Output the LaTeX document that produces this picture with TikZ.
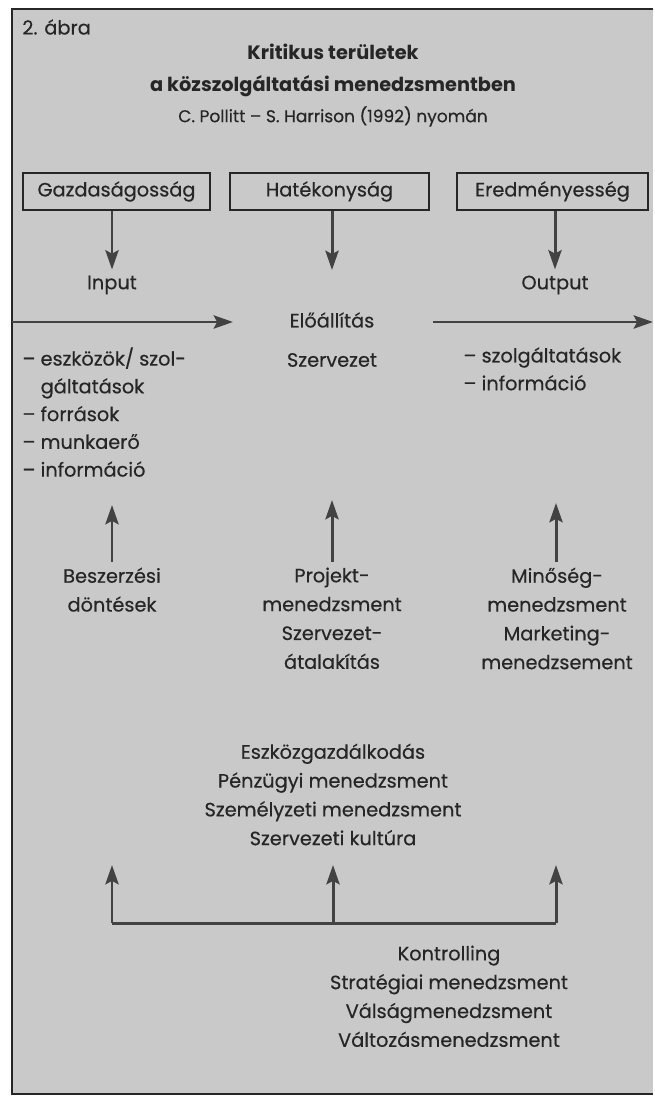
\documentclass[tikz,border=0pt]{standalone}
\usepackage{fontspec}
\setmainfont{Poppins}[UprightFeatures={FakeBold=0.4}]
\usepackage{tikz}
\usetikzlibrary{
  arrows.meta,
  positioning,
}

\definecolor{paper}{gray}{0.79}
\definecolor{ink}{gray}{0.15}
\definecolor{arrowgray}{gray}{0.26}

\begin{document}
\begin{tikzpicture}[
  x=0.02cm, y=-0.02cm,
  font=\fontsize{11}{16.4}\selectfont,
  every node/.style={align=center, text=ink},
  figbox/.style={draw=ink, line width=0.7pt, minimum height=0.74cm, inner sep=0pt},
  arrow/.style={-{Stealth[length=11pt, width=7.5pt, inset=2pt]}, line width=1.7pt, draw=arrowgray},
  bar/.style={line width=1.7pt, draw=arrowgray},
  itemlist/.style={align=left, anchor=north west, inner sep=0pt,
    font=\fontsize{11}{15.8}\selectfont},
  labelblock/.style={anchor=north, inner sep=3pt},
]

%% paper and frame
\fill[white] (0,0) rectangle (653,1097);
\fill[paper] (12,9) rectangle (653,1094);
\draw[ink, line width=1pt] (653,9) -- (12,9) -- (12,1094) -- (653,1094);

%% heading
\node[anchor=west, inner sep=0pt] (abra) at (22,27) {2. ábra};
\node[anchor=north, inner sep=0pt, font=\fontsize{11}{18}\selectfont\bfseries]
  (title) at (333,44)
  {Kritikus területek\\a közszolgáltatási menedzsmentben};
\node[below=5pt of title, inner sep=0pt, font=\fontsize{9.7}{12}\selectfont] (source)
  {C. Pollitt – S. Harrison (1992) nyomán};

%% criteria boxes
\node[figbox, minimum width=3.74cm] (gazd)  at (116.5,191.5) {Gazdaságosság};
\node[figbox, minimum width=3.98cm] (hatek) at (329.5,191.5) {Hatékonyság};
\node[figbox, minimum width=3.82cm] (ered)  at (552.5,191.5) {Eredményesség};

%% production line
\node (input)  at (112,285) {Input};
\node (output) at (555,285) {Output};
\node (eloall) at (332,320) {Előállítás};
\node (szerv)  at (332,360) {Szervezet};
\coordinate (hatektip) at (332,270);

\draw[arrow] (gazd.south -| input) -- (input.north);
\draw[arrow] (hatek.south -| hatektip) -- (hatektip);
\draw[arrow] (ered.south -| output) -- (output.north);

\coordinate (inL)  at (12,322);
\coordinate (inR)  at (233,322);
\coordinate (outL) at (433,322);
\coordinate (outR) at (653,322);
\draw[arrow] (inL) -- (inR);
\draw[arrow] (outL) -- (outR);

\node[itemlist] (inlist) at (22,347)
  {– eszközök/ szol-\\
   \hspace*{0.95em}gáltatások\\
   – források\\
   – munkaerő\\
   – információ};
\node[itemlist] (outlist) at (463,347)
  {– szolgáltatások\\
   – információ};

%% management areas
\node[labelblock] (beszerz) at (112,562) {Beszerzési\\döntések};
\node[labelblock] (projekt) at (332,562)
  {Projekt-\\menedzsment\\Szervezet-\\átalakítás};
\node[labelblock] (minoseg) at (557,562)
  {Minőség-\\menedzsment\\Marketing-\\menedzsement};

\coordinate (besztip) at (112,505);
\coordinate (projtip) at (332,500);
\coordinate (minotip) at (556,503);
\draw[arrow] (beszerz.north) -- (besztip);
\draw[arrow] (projekt.north -| projtip) -- (projtip);
\draw[arrow] (minoseg.north -| minotip) -- (minotip);

\node[labelblock] (eszkoz) at (333,738)
  {Eszközgazdálkodás\\Pénzügyi menedzsment\\Személyzeti menedzsment\\Szervezeti kultúra};

%% controlling feeds all three
\coordinate (bar1) at (112,923);
\coordinate (bar2) at (333,923);
\coordinate (bar3) at (556,923);
\draw[bar] (bar1) -- (bar3);
\draw[arrow] (bar1) -- ++(0,-58);
\draw[arrow] (bar2) -- ++(0,-58);
\draw[arrow] (bar3) -- ++(0,-58);

\node[labelblock] (kontroll) at (449,940)
  {Kontrolling\\Stratégiai menedzsment\\Válságmenedzsment\\Változásmenedzsment};

\end{tikzpicture}
\end{document}
